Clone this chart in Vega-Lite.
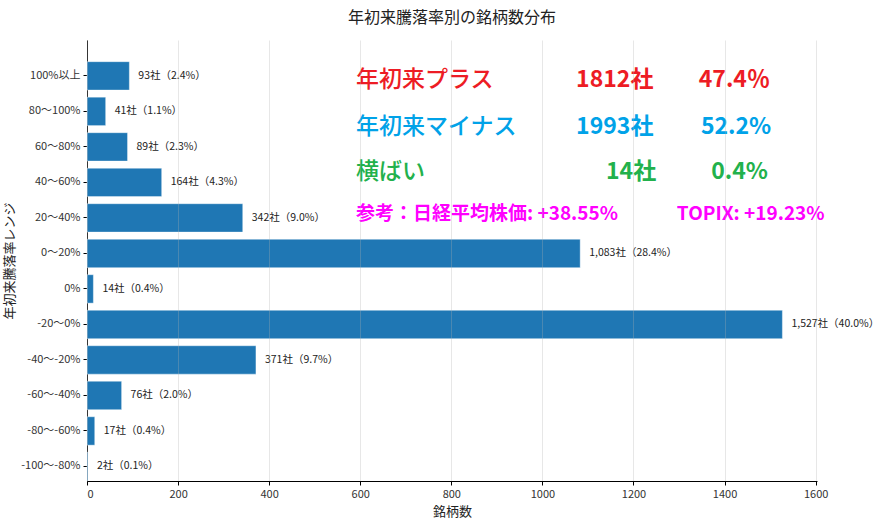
{
  "$schema": "https://vega.github.io/schema/vega-lite/v6.json",
  "autosize": {"type": "none"},
  "width": 730,
  "height": 441,
  "padding": {"left": 87, "top": 40, "right": 65, "bottom": 37},
  "title": {"text": "年初来騰落率別の銘柄数分布", "fontSize": 16, "font": "Noto Sans CJK JP", "fontWeight": "normal", "color": "#222222", "offset": 14, "anchor": "middle"},
  "config": {"view": {"stroke": null}, "font": "Noto Sans CJK JP"},
  "datasets": {
    "bars": [
      {"range": "100%以上", "count": 93, "label": "93社（2.4%）"},
      {"range": "80～100%", "count": 41, "label": "41社（1.1%）"},
      {"range": "60～80%", "count": 89, "label": "89社（2.3%）"},
      {"range": "40～60%", "count": 164, "label": "164社（4.3%）"},
      {"range": "20～40%", "count": 342, "label": "342社（9.0%）"},
      {"range": "0～20%", "count": 1083, "label": "1,083社（28.4%）"},
      {"range": "0%", "count": 14, "label": "14社（0.4%）"},
      {"range": "-20～0%", "count": 1527, "label": "1,527社（40.0%）"},
      {"range": "-40～-20%", "count": 371, "label": "371社（9.7%）"},
      {"range": "-60～-40%", "count": 76, "label": "76社（2.0%）"},
      {"range": "-80～-60%", "count": 17, "label": "17社（0.4%）"},
      {"range": "-100～-80%", "count": 2, "label": "2社（0.1%）"}
    ],
    "notes": [
      {"g": "plus", "kind": "label", "t": "年初来プラス", "fx": 0.3685, "fy": 0.909},
      {"g": "plus", "kind": "value", "t": "1812社", "fx": 0.670, "fy": 0.909},
      {"g": "plus", "kind": "value", "t": "47.4％", "fx": 0.838, "fy": 0.909},
      {"g": "minus", "kind": "label", "t": "年初来マイナス", "fx": 0.3685, "fy": 0.803},
      {"g": "minus", "kind": "value", "t": "1993社", "fx": 0.670, "fy": 0.803},
      {"g": "minus", "kind": "value", "t": "52.2%", "fx": 0.841, "fy": 0.803},
      {"g": "flat", "kind": "label", "t": "横ばい", "fx": 0.3685, "fy": 0.701},
      {"g": "flat", "kind": "value", "t": "14社", "fx": 0.711, "fy": 0.701},
      {"g": "flat", "kind": "value", "t": "0.4%", "fx": 0.855, "fy": 0.701},
      {"g": "ref", "kind": "ref", "t": "参考：日経平均株価: +38.55%", "fx": 0.3685, "fy": 0.605},
      {"g": "ref", "kind": "ref", "t": "TOPIX: +19.23%", "fx": 0.808, "fy": 0.605}
    ]
  },
  "layer": [
    {
      "data": {"name": "bars"},
      "encoding": {
        "y": {
          "field": "range", "type": "nominal", "sort": null,
          "scale": {"paddingInner": 0.2, "paddingOuter": 0.31, "align": 0.985},
          "axis": {
            "title": "年初来騰落率レンジ", "titleFontSize": 13, "titleFontWeight": "normal", "titleColor": "#222222",
            "labelFontSize": 11, "labelColor": "#333333", "domainColor": "#000000", "tickColor": "#000000",
            "tickSize": 4, "labelPadding": 3, "grid": false
          }
        },
        "x": {
          "field": "count", "type": "quantitative",
          "scale": {"domain": [0, 1603], "nice": false},
          "axis": {
            "title": "銘柄数", "titleFontSize": 13, "titleFontWeight": "normal", "titleColor": "#222222", "titlePadding": 6,
            "values": [0, 200, 400, 600, 800, 1000, 1200, 1400, 1600], "format": "d",
            "labelFontSize": 11, "labelColor": "#333333", "domainColor": "#000000", "tickColor": "#000000",
            "tickSize": 4, "labelPadding": 3, "grid": true, "gridColor": "#b0b0b0", "gridOpacity": 0.3, "zindex": 1
          }
        }
      },
      "layer": [
        {"mark": {"type": "bar", "color": "#1f77b4", "stroke": "#ffffff", "strokeWidth": 0.8, "strokeOpacity": 0.5}},
        {"mark": {"type": "text", "align": "left", "baseline": "middle", "dx": 9, "fontSize": 10.5, "color": "#222222"},
         "encoding": {"text": {"field": "label"}}}
      ]
    },
    {
      "data": {"name": "notes"},
      "encoding": {
        "x": {"field": "fx", "type": "quantitative", "scale": {"domain": [0, 1], "nice": false}, "axis": null},
        "y": {"field": "fy", "type": "quantitative", "scale": {"domain": [0, 1], "nice": false}, "axis": null},
        "text": {"field": "t"},
        "color": {"field": "g", "type": "nominal", "legend": null,
          "scale": {"domain": ["plus", "minus", "flat", "ref"], "range": ["#ed1c24", "#00a2e8", "#22b14c", "#ff00ff"]}}
      },
      "layer": [
        {"transform": [{"filter": "datum.kind === 'label'"}],
         "mark": {"type": "text", "align": "left", "baseline": "middle", "fontSize": 23, "fontWeight": 500}},
        {"transform": [{"filter": "datum.kind === 'value'"}],
         "mark": {"type": "text", "align": "left", "baseline": "middle", "fontSize": 23, "fontWeight": "bold"}},
        {"transform": [{"filter": "datum.kind === 'ref'"}],
         "mark": {"type": "text", "align": "left", "baseline": "middle", "fontSize": 19, "fontWeight": "bold"}}
      ]
    }
  ],
  "resolve": {"scale": {"x": "independent", "y": "independent", "color": "independent"}}
}
